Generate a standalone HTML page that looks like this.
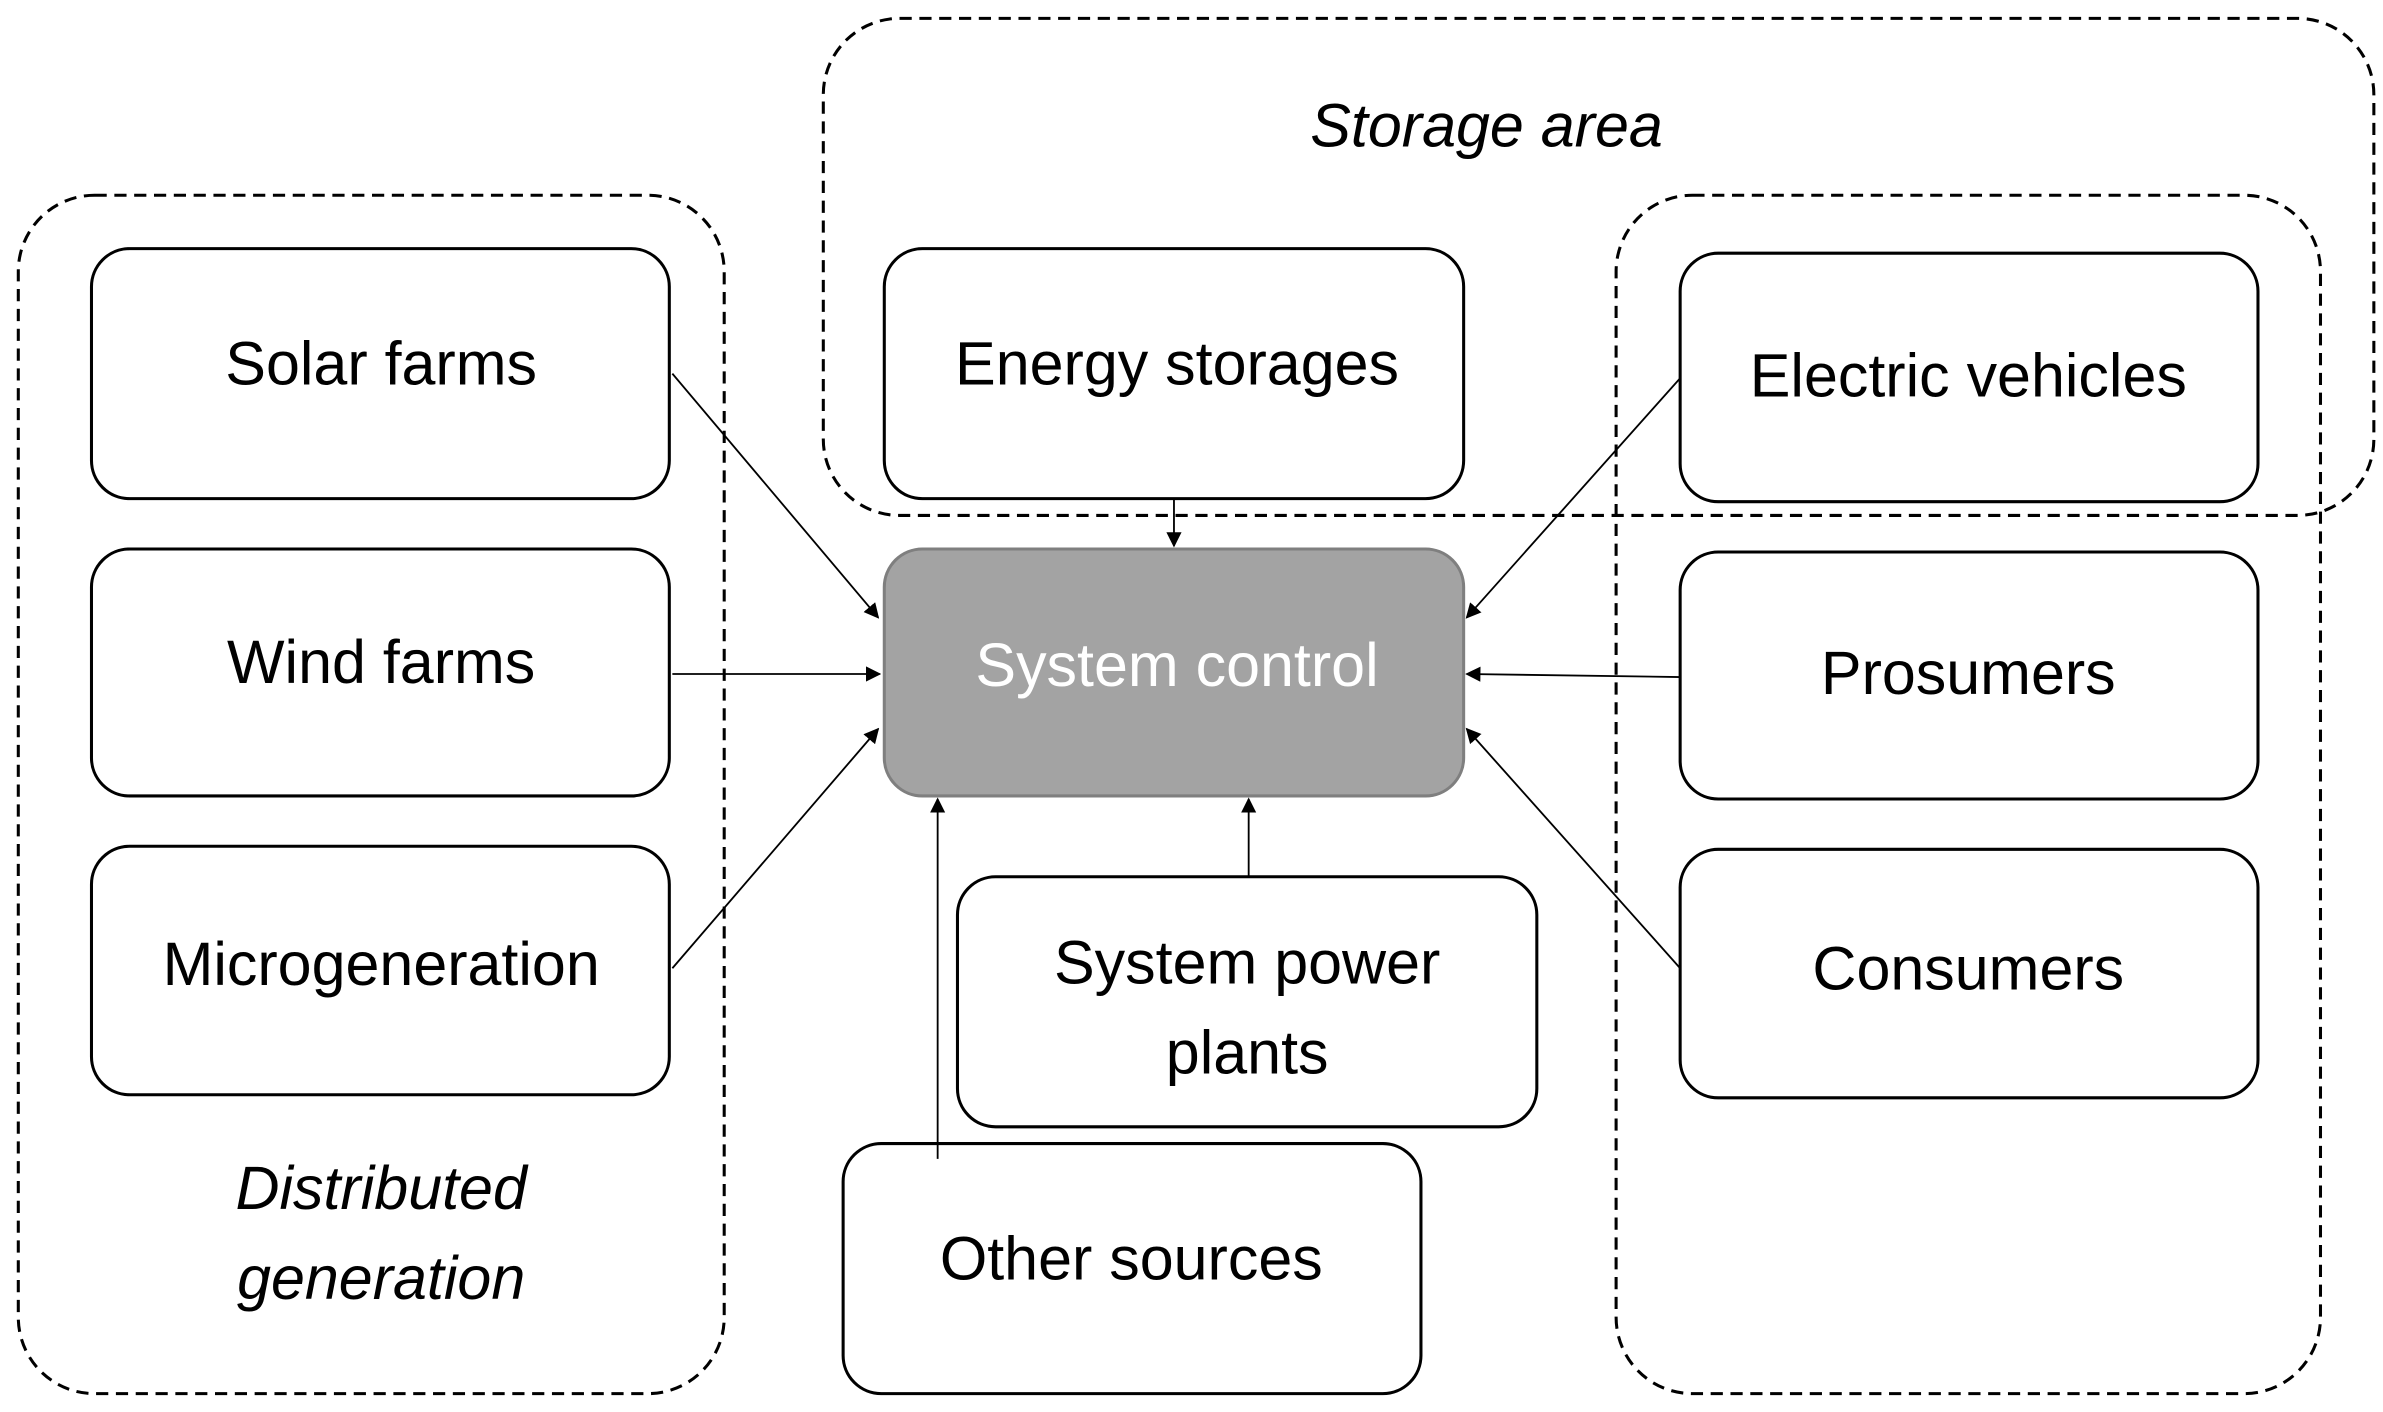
<!DOCTYPE html>
<html><head><meta charset="utf-8"><style>html,body{margin:0;padding:0;background:#fff}svg{display:block}</style></head>
<body>
<svg width="2383" height="1412" viewBox="0 0 1563 926" xmlns="http://www.w3.org/2000/svg" font-family="'Liberation Sans', sans-serif">
<defs><marker id="a" markerWidth="10" markerHeight="10" refX="9" refY="5" orient="auto" markerUnits="userSpaceOnUse"><path d="M0,0 L10,5 L0,10 z" fill="#000"/></marker></defs>
<g fill="none" stroke="#000" stroke-width="2" stroke-dasharray="8,5">
<rect x="12" y="128" width="463" height="786" rx="50"/>
<rect x="540" y="12" width="1017" height="326" rx="50"/>
<rect x="1060" y="128" width="462" height="786" rx="50"/>
</g>
<g fill="#fff" stroke="#000" stroke-width="2">
<rect x="60" y="163" width="379" height="164" rx="25"/>
<rect x="60" y="360" width="379" height="162" rx="25"/>
<rect x="60" y="555" width="379" height="163" rx="25"/>
<rect x="580" y="163" width="380" height="164" rx="25"/>
<rect x="1102" y="166" width="379" height="163" rx="25"/>
<rect x="1102" y="362" width="379" height="162" rx="25"/>
<rect x="1102" y="557" width="379" height="163" rx="25"/>
<rect x="628" y="575" width="380" height="164" rx="25"/>
<rect x="553" y="750" width="379" height="164" rx="25"/>
</g>
<rect x="580" y="360" width="380" height="162" rx="25" fill="#a3a3a3" stroke="#7f7f7f" stroke-width="2"/>
<g stroke="#000" stroke-width="1.2" marker-end="url(#a)">
<line x1="441" y1="245" x2="576" y2="405"/>
<line x1="441" y1="442" x2="577" y2="442"/>
<line x1="441" y1="635" x2="576" y2="478"/>
<line x1="770" y1="327" x2="770" y2="358"/>
<line x1="1102" y1="248" x2="962" y2="405"/>
<line x1="1102" y1="444" x2="962" y2="442"/>
<line x1="1102" y1="635" x2="962" y2="478"/>
<line x1="819" y1="575" x2="819" y2="524"/>
<line x1="615" y1="760" x2="615" y2="524"/>
</g>
<g font-size="40" text-anchor="middle" fill="#000">
<text x="250" y="252">Solar farms</text>
<text x="250" y="448">Wind farms</text>
<text x="250" y="646">Microgeneration</text>
<text x="772" y="252">Energy storages</text>
<text x="1291" y="260">Electric vehicles</text>
<text x="1291" y="455">Prosumers</text>
<text x="1291" y="649">Consumers</text>
<text x="818" y="645">System power</text>
<text x="818" y="704">plants</text>
<text x="742" y="839">Other sources</text>
<text x="772" y="450" fill="#fff">System control</text>
<g font-style="italic">
<text x="975" y="96">Storage area</text>
<text x="250" y="793">Distributed</text>
<text x="250" y="852">generation</text>
</g>
</g>
</svg>
</body></html>
